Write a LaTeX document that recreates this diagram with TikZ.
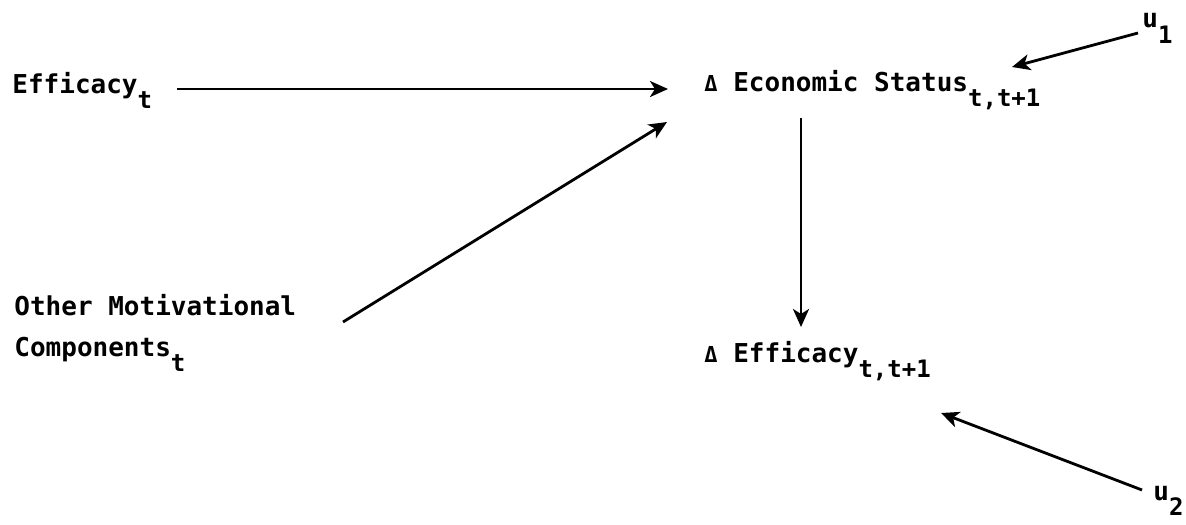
\documentclass[tikz,border=0pt]{standalone}
\usepackage{fontspec}
\newfontfamily\tw{DejaVu Sans Mono}
\usetikzlibrary{arrows.meta}
\newcommand{\lowr}[1]{\raisebox{-0.6em}{\fontsize{12}{12}\selectfont #1}}
\newcommand{\dlt}{{\fontsize{11}{11}\selectfont Δ}}
\tikzset{
  lbl/.style={anchor=base west, inner sep=0pt, font=\tw\bfseries\fontsize{13}{15}\selectfont},
  arr/.style={line width=1.4pt, -{Stealth[length=9pt,width=8pt,inset=2.5pt]}},
}
\begin{document}
\begin{tikzpicture}[x=0.5pt,y=-0.5pt]
\useasboundingbox (0,0) rectangle (1186,524);
\node[lbl] (eff) at (12,93) {Efficacy\lowr{t}};
\node[lbl] (econ) at (704,91) {\dlt{} Economic Status\lowr{t,t+1}};
\node[lbl] (u1) at (1142,28) {u\lowr{1}};
\node[lbl] (omc1) at (14,315) {Other Motivational};
\node[lbl] (omc2) at (14,356) {Components\lowr{t}};
\node[lbl] (deff) at (704,362) {\dlt{} Efficacy\lowr{t,t+1}};
\node[lbl] (u2) at (1153,500) {u\lowr{2}};
\coordinate (a1s) at (177,89);
\coordinate (a1e) at (668,89);
\coordinate (a2s) at (343,322);
\coordinate (a2e) at (667,122);
\coordinate (a3s) at (801,118);
\coordinate (a3e) at (801,327);
\coordinate (a4s) at (1138,33);
\coordinate (a4e) at (1012,67);
\coordinate (a5s) at (1142,490);
\coordinate (a5e) at (941,413);
\draw[arr] (a1s) -- (a1e);
\draw[arr] (a2s) -- (a2e);
\draw[arr] (a3s) -- (a3e);
\draw[arr] (a4s) -- (a4e);
\draw[arr] (a5s) -- (a5e);
\end{tikzpicture}
\end{document}
